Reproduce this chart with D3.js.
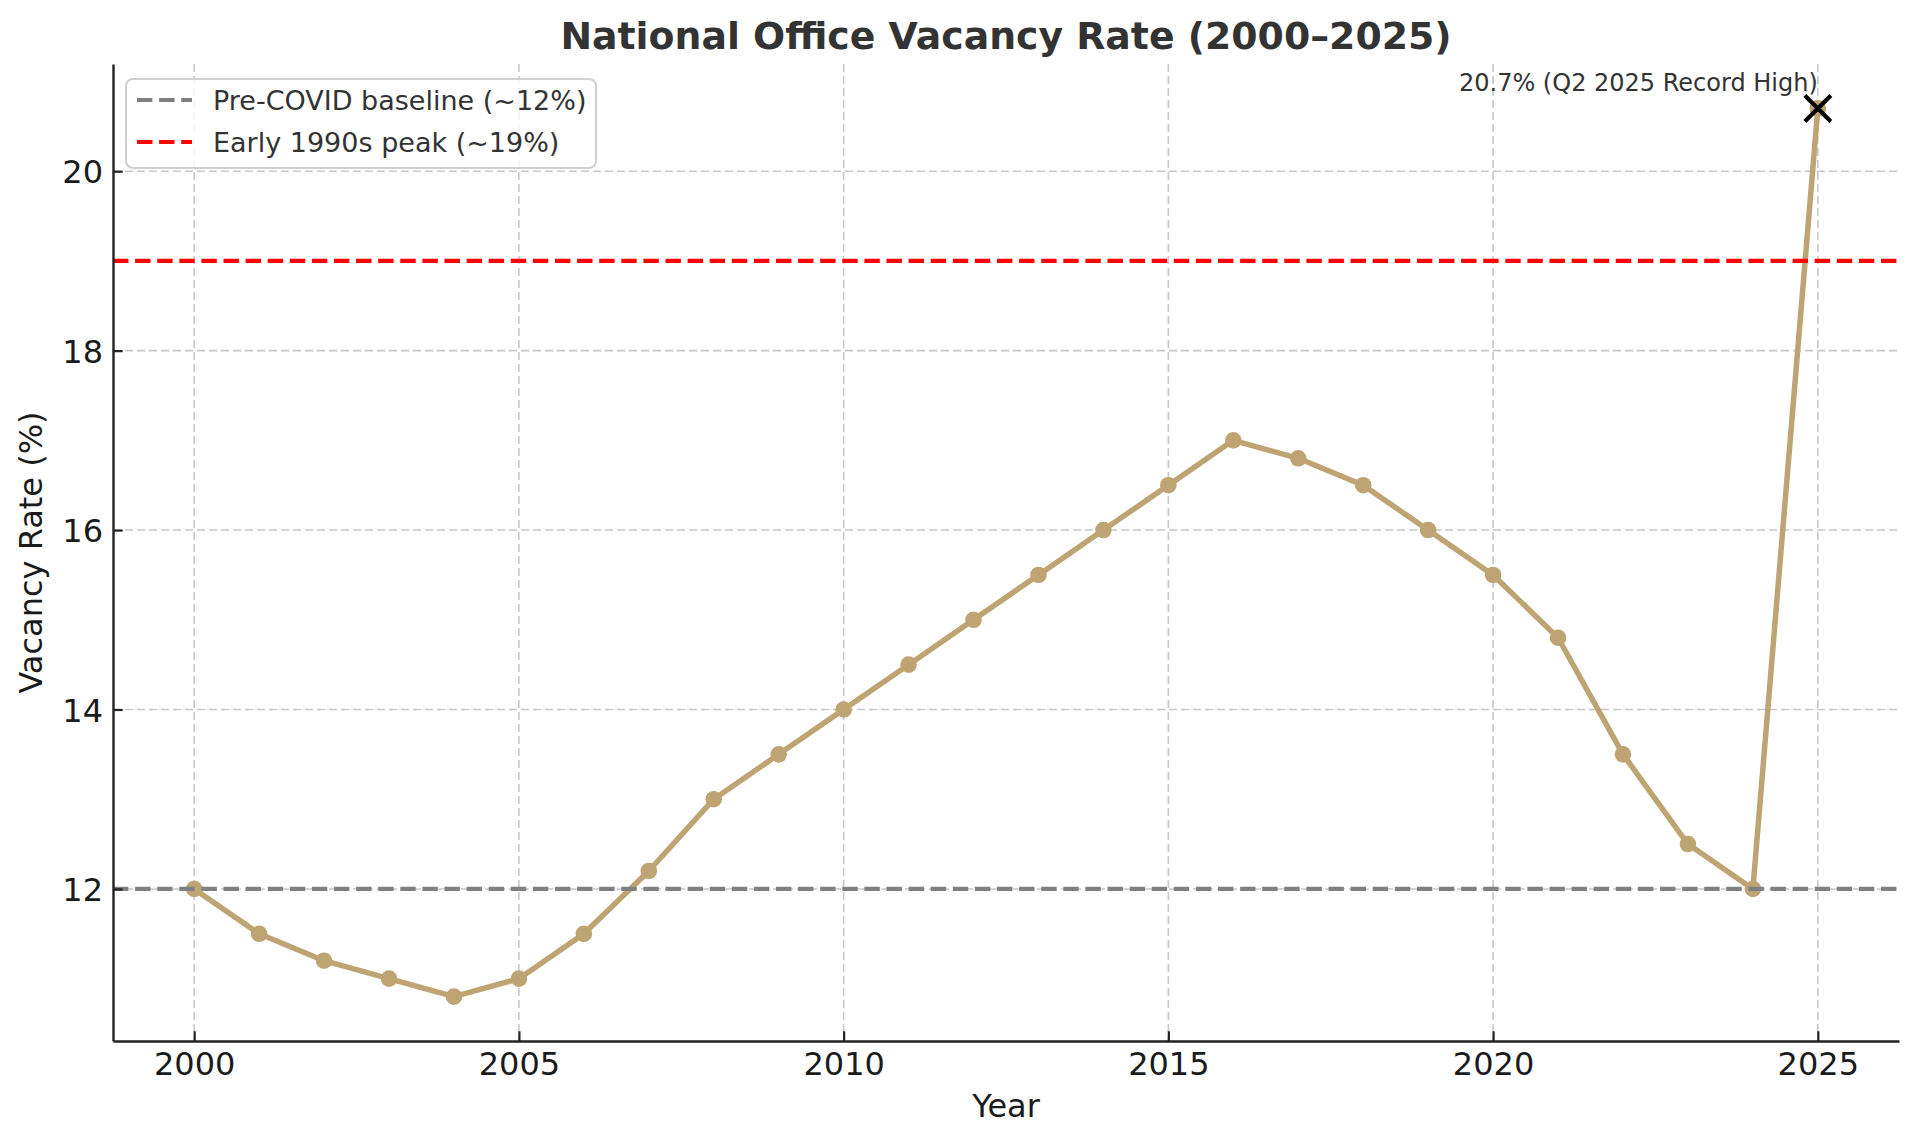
<!DOCTYPE html>
<html>
<head>
<meta charset="utf-8">
<script src="https://cdn.jsdelivr.net/npm/d3@7.8.5/dist/d3.min.js"></script>
<style>
  html, body { margin: 0; padding: 0; background: #fff; }
  svg { display: block; font-family: "DejaVu Sans", sans-serif; }
</style>
</head>
<body>
<div id="chart"></div>
<script>
// data
const years = [2000, 2001, 2002, 2003, 2004, 2005, 2006, 2007, 2008, 2009, 2010, 2011, 2012,
               2013, 2014, 2015, 2016, 2017, 2018, 2019, 2020, 2021, 2022, 2023, 2024, 2025];
const vacancy = [12.0, 11.5, 11.2, 11.0, 10.8, 11.0, 11.5, 12.2, 13.0, 13.5, 14.0, 14.5, 15.0,
                 15.5, 16.0, 16.5, 17.0, 16.8, 16.5, 16.0, 15.5, 14.8, 13.5, 12.5, 12.0, 20.7];
const xTicks = [2000, 2005, 2010, 2015, 2020, 2025];
const yTicks = [12, 14, 16, 18, 20];
const refLines = [
    { value: 12, label: 'Pre-COVID baseline (~12%)', color: '#808080' },
    { value: 19, label: 'Early 1990s peak (~19%)', color: '#ff0000' }
];
const highlight = { year: 2025, value: 20.7, label: '20.7% (Q2 2025 Record High)' };

const width = 1920, height = 1144;
const margin = { top: 64, right: 21, bottom: 103, left: 113 };
const innerW = width - margin.left - margin.right;
const innerH = height - margin.top - margin.bottom;

const svg = d3.select('#chart').append('svg')
    .attr('width', width)
    .attr('height', height);

// matplotlib-like 5% padding on both axes
const xExt = d3.extent(years), yExt = d3.extent(vacancy);
const xPad = (xExt[1] - xExt[0]) * 0.05, yPad = (yExt[1] - yExt[0]) * 0.05;
const x = d3.scaleLinear().domain([xExt[0] - xPad, xExt[1] + xPad]).range([0, innerW]);
const y = d3.scaleLinear().domain([yExt[0] - yPad, yExt[1] + yPad]).range([innerH, 0]);

const g = svg.append('g').attr('transform', `translate(${margin.left},${margin.top})`);

// grid
g.append('g').selectAll('line').data(xTicks).join('line')
    .attr('x1', d => x(d)).attr('x2', d => x(d))
    .attr('y1', 0).attr('y2', innerH)
    .attr('stroke', '#c8c8c8').attr('stroke-width', 1.6).attr('stroke-dasharray', '8,4');
g.append('g').selectAll('line').data(yTicks).join('line')
    .attr('x1', 0).attr('x2', innerW)
    .attr('y1', d => y(d)).attr('y2', d => y(d))
    .attr('stroke', '#c8c8c8').attr('stroke-width', 1.6).attr('stroke-dasharray', '8,4');

// main series
const line = d3.line().x((d, i) => x(years[i])).y(d => y(d));
g.append('path')
    .datum(vacancy)
    .attr('d', line)
    .attr('fill', 'none')
    .attr('stroke', '#bfa473')
    .attr('stroke-width', 5.5)
    .attr('stroke-linejoin', 'round');
g.append('g').selectAll('circle').data(vacancy).join('circle')
    .attr('cx', (d, i) => x(years[i]))
    .attr('cy', d => y(d))
    .attr('r', 8.3)
    .attr('fill', '#bfa473');

// reference lines
g.append('g').selectAll('line').data(refLines).join('line')
    .attr('x1', 0).attr('x2', innerW)
    .attr('y1', d => y(d.value)).attr('y2', d => y(d.value))
    .attr('stroke', d => d.color)
    .attr('stroke-width', 4.2)
    .attr('stroke-dasharray', '15.4,6.7');

// record-high marker
const hx = x(highlight.year), hy = y(highlight.value), s = 13;
g.append('path')
    .attr('d', `M${hx - s},${hy - s}L${hx + s},${hy + s}M${hx - s},${hy + s}L${hx + s},${hy - s}`)
    .attr('stroke', '#000')
    .attr('stroke-width', 4.2);
g.append('text')
    .attr('x', hx)
    .attr('y', hy - 17.5)
    .attr('text-anchor', 'end')
    .style('font-size', '24px')
    .style('fill', '#333')
    .text(highlight.label);

// axes (ticks pointing inward, only left and bottom spines)
const xAxis = g.append('g')
    .attr('transform', `translate(0,${innerH})`)
    .call(d3.axisBottom(x).tickValues(xTicks).tickFormat(d3.format('d')).tickSizeInner(-9.7).tickSizeOuter(0).tickPadding(11));
const yAxis = g.append('g')
    .call(d3.axisLeft(y).tickValues(yTicks).tickFormat(d3.format('d')).tickSizeInner(-9.7).tickSizeOuter(0).tickPadding(10));
[xAxis, yAxis].forEach(ax => {
    ax.select('.domain').attr('stroke', '#222').attr('stroke-width', 2.4);
    ax.selectAll('.tick line').attr('stroke', '#222').attr('stroke-width', 2.2);
    ax.selectAll('.tick text')
        .style('font-family', '"DejaVu Sans", sans-serif')
        .style('font-size', '32px')
        .style('fill', '#1a1a1a');
});
yAxis.selectAll('.tick text').attr('dy', '0.36em');

// axis labels and title
svg.append('text')
    .attr('x', margin.left + innerW / 2)
    .attr('y', 1117)
    .attr('text-anchor', 'middle')
    .style('font-size', '32px')
    .style('fill', '#1a1a1a')
    .text('Year');
svg.append('text')
    .attr('transform', `translate(42,${margin.top + innerH / 2}) rotate(-90)`)
    .attr('text-anchor', 'middle')
    .style('font-size', '32px')
    .style('fill', '#1a1a1a')
    .text('Vacancy Rate (%)');
svg.append('text')
    .attr('x', margin.left + innerW / 2)
    .attr('y', 49)
    .attr('text-anchor', 'middle')
    .style('font-size', '37.8px')
    .style('font-weight', 'bold')
    .style('fill', '#333')
    .text('National Office Vacancy Rate (2000\u20132025)');

// legend
const legend = svg.append('g').attr('transform', 'translate(126,79)');
legend.append('rect')
    .attr('width', 470).attr('height', 89)
    .attr('rx', 7).attr('ry', 7)
    .attr('fill', '#fff').attr('fill-opacity', 0.8)
    .attr('stroke', '#d0d0d0').attr('stroke-width', 2);
const rows = legend.selectAll('.row').data(refLines).join('g')
    .attr('class', 'row')
    .attr('transform', (d, i) => `translate(0,${21 + i * 42})`);
rows.append('line')
    .attr('x1', 11).attr('x2', 66)
    .attr('stroke', d => d.color)
    .attr('stroke-width', 4.2)
    .attr('stroke-dasharray', '15.4,6.7');
rows.append('text')
    .attr('x', 87)
    .attr('dy', '0.36em')
    .style('font-size', '27px')
    .style('fill', '#333')
    .text(d => d.label);
</script>
</body>
</html>
